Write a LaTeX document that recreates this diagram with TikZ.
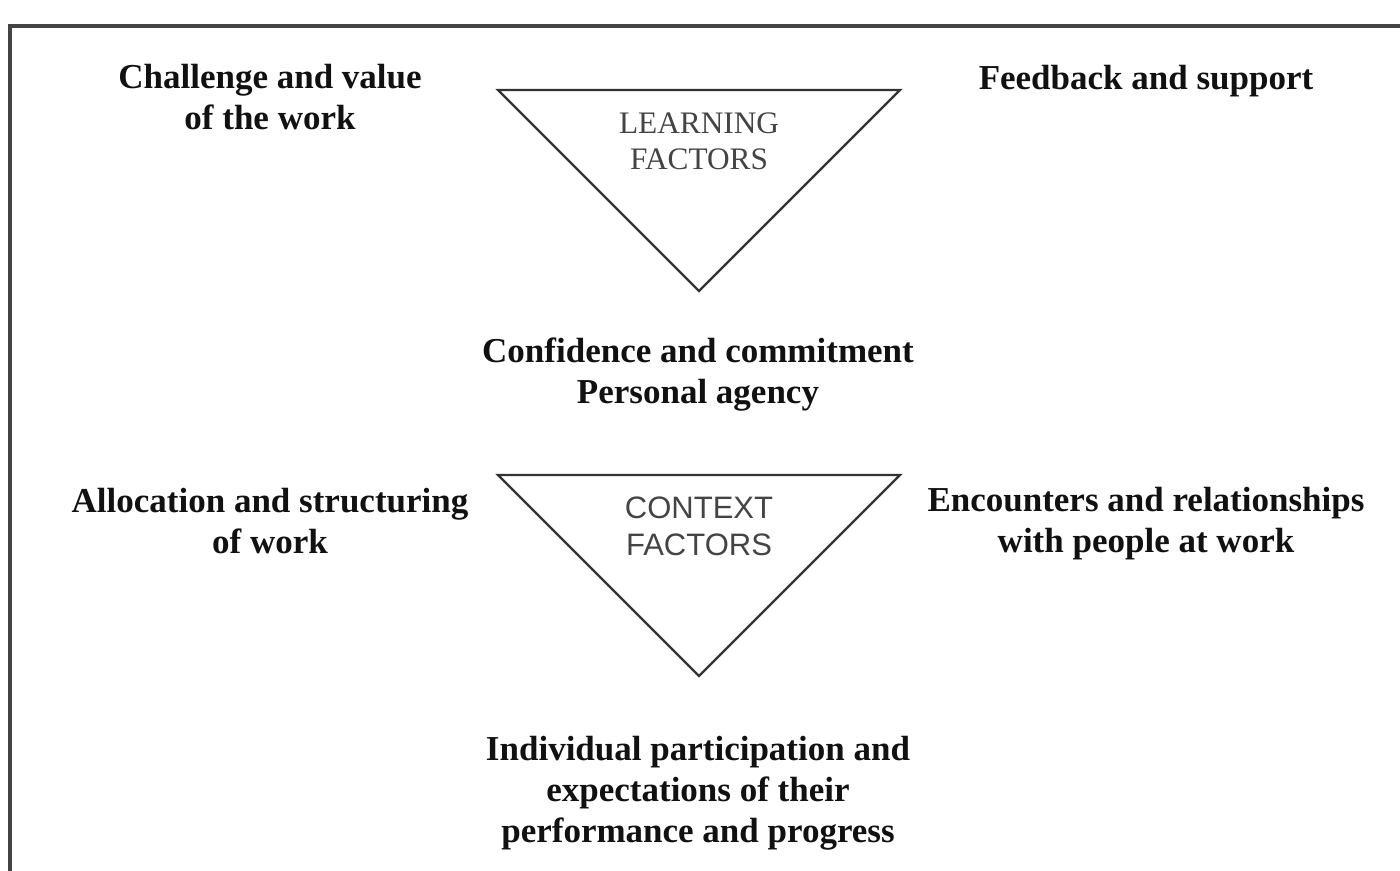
\documentclass[tikz,border=0pt]{standalone}
\usepackage{fontspec}
\setmainfont{Liberation Serif}
\newfontfamily\arialfont{Liberation Sans}
\definecolor{framegray}{HTML}{444444}
\definecolor{trigray}{HTML}{333333}
\definecolor{labgray}{HTML}{444444}
\definecolor{txtblack}{HTML}{111111}
\begin{document}
\begin{tikzpicture}[x=1pt,y=-1pt,
  lab/.style={align=center,inner sep=0pt,text=txtblack,font=\bfseries\fontsize{35}{41}\selectfont},
  trilab/.style={align=center,inner sep=0pt,text=labgray},
  tri/.style={draw=trigray,line width=2.2pt,line join=miter}]
\useasboundingbox (0,0) rectangle (1400,870);
% frame
\draw[framegray,line width=4pt] (10,875) -- (10,26) -- (1405,26);
% triangles
\draw[tri] (498,90) -- (900,90) -- (699,291) -- cycle;
\draw[tri] (498,475) -- (900,475) -- (699,676) -- cycle;
% triangle labels
\node[trilab,font=\fontsize{31.3}{36}\selectfont] (lf) at (699,141) {LEARNING\\FACTORS};
\node[trilab,font=\arialfont\fontsize{31}{37}\selectfont] (cf) at (699,526) {CONTEXT\\FACTORS};
% outer labels
\node[lab] (chal) at (270,97) {Challenge and value\\of the work};
\node[lab] (feed) at (1146,81) {Feedback and support};
\node[lab] (conf) at (698,375) {Confidence and commitment\\Personal agency};
\node[lab] (alloc) at (270,521) {Allocation and structuring\\of work};
\node[lab] (enc) at (1146,524) {Encounters and relationships\\with people at work};
\node[lab] (ind) at (698,793) {Individual participation and\\expectations of their\\performance and progress};
\end{tikzpicture}
\end{document}
